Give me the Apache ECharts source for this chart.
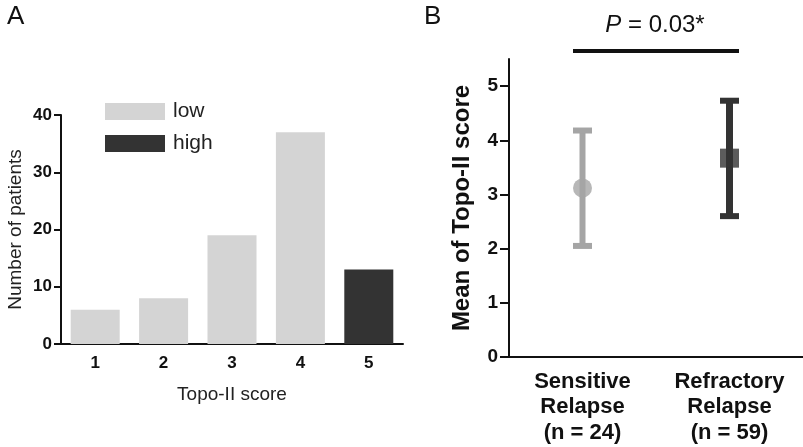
<!DOCTYPE html>
<html>
<head>
<meta charset="utf-8">
<script src="https://cdn.jsdelivr.net/npm/echarts@6/dist/echarts.min.js"></script>
<style>
  html, body { margin: 0; padding: 0; background: #fff; }
  #chart { width: 803px; height: 447px; }
</style>
</head>
<body>
<div id="chart"></div>
<script>
  // panel A - histogram of Topo-II scores
  var scores = ['1', '2', '3', '4', '5'];
  var lowCounts = [6, 8, 19, 37, '-'];
  var highCounts = ['-', '-', '-', '-', 13];

  // panel B - mean with error range
  var groups = ['Sensitive\nRelapse\n(n = 24)', 'Refractory\nRelapse\n(n = 59)'];
  var means = [3.12, 3.67];
  var errLow = [2.05, 2.6];
  var errHigh = [4.18, 4.73];
  var groupColors = ['#a5a5a5', '#333333'];
  var groupSymbols = ['circle', 'rect'];
  var yTicksB = [0, 1, 2, 3, 4, 5];

  var font = 'Liberation Sans, Arial, sans-serif';
  var myChart = echarts.init(document.getElementById('chart'));

  var errData = means.map(function (m, i) { return [i, errLow[i], errHigh[i]]; });
  var meanData = means.map(function (m, i) {
    return {
      value: [i, m],
      symbol: groupSymbols[i],
      symbolSize: 19,
      itemStyle: { color: groupColors[i] }
    };
  });

  var option = {
    backgroundColor: '#fff',
    animation: false,
    textStyle: { fontFamily: font },
    title: [
      { text: 'A', left: 7, top: 4, padding: 0, textStyle: { fontSize: 26, fontWeight: 'normal', color: '#111', fontFamily: font } },
      { text: 'B', left: 424, top: 4, padding: 0, textStyle: { fontSize: 26, fontWeight: 'normal', color: '#111', fontFamily: font } },
      {
        text: '{i|P} = 0.03*', left: 655, top: 13, padding: 0, textAlign: 'center',
        textStyle: {
          fontSize: 24, fontWeight: 'normal', color: '#111', fontFamily: font,
          rich: { i: { fontSize: 24, fontStyle: 'italic', color: '#111', fontFamily: font } }
        }
      }
    ],
    graphic: [
      { type: 'line', shape: { x1: 573, y1: 51, x2: 739, y2: 51 }, style: { stroke: '#111', lineWidth: 4 } }
    ],
    legend: {
      data: ['low', 'high'],
      orient: 'vertical',
      left: 100, top: 96,
      itemWidth: 60, itemHeight: 17, itemGap: 11,
      icon: 'rect',
      selectedMode: false,
      textStyle: { fontSize: 21, color: '#222', fontFamily: font, padding: [0, 0, 0, 3] }
    },
    grid: [
      { left: 61, top: 115, width: 342, height: 229 },
      { left: 509, top: 59, width: 294, height: 298 }
    ],
    xAxis: [
      {
        gridIndex: 0, type: 'category', data: scores,
        axisLine: { lineStyle: { color: '#111', width: 2 } },
        axisTick: { alignWithLabel: true, length: 6, lineStyle: { color: '#111', width: 2 } },
        axisLabel: { fontSize: 17, fontWeight: 'bold', color: '#111', margin: 11 },
        name: 'Topo-II score', nameLocation: 'middle', nameGap: 41,
        nameTextStyle: { fontSize: 19, color: '#222', fontFamily: font }
      },
      {
        gridIndex: 1, type: 'category', data: groups,
        axisLine: { lineStyle: { color: '#111', width: 2 } },
        axisTick: { alignWithLabel: true, length: 8, lineStyle: { color: '#111', width: 2 } },
        axisLabel: { fontSize: 22, fontWeight: 'bold', color: '#111', lineHeight: 25.5, margin: 12 }
      }
    ],
    yAxis: [
      {
        gridIndex: 0, type: 'value', min: 0, max: 40, interval: 10,
        splitLine: { show: false },
        axisLine: { show: true, lineStyle: { color: '#111', width: 2 } },
        axisTick: { show: true, length: 7, lineStyle: { color: '#111', width: 2 } },
        axisLabel: { fontSize: 17, fontWeight: 'bold', color: '#111', margin: 9 },
        name: 'Number of patients', nameLocation: 'middle', nameGap: 36,
        nameTextStyle: { fontSize: 19, color: '#222', fontFamily: font }
      },
      {
        gridIndex: 1, type: 'value', min: 0, max: 5.5, interval: 1,
        splitLine: { show: false },
        axisLine: { show: true, lineStyle: { color: '#111', width: 2 } },
        axisTick: { show: true, length: 9, customValues: yTicksB, lineStyle: { color: '#111', width: 2 } },
        axisLabel: { fontSize: 19, fontWeight: 'bold', color: '#111', margin: 11, customValues: yTicksB },
        name: 'Mean of Topo-II score', nameLocation: 'middle', nameGap: 35,
        nameTextStyle: { fontSize: 24, fontWeight: 'bold', color: '#111', fontFamily: font }
      }
    ],
    series: [
      {
        name: 'low', type: 'bar', xAxisIndex: 0, yAxisIndex: 0, stack: 'a',
        barWidth: 49, data: lowCounts,
        itemStyle: { color: '#d4d4d4' }
      },
      {
        name: 'high', type: 'bar', xAxisIndex: 0, yAxisIndex: 0, stack: 'a',
        barWidth: 49, data: highCounts,
        itemStyle: { color: '#333333' }
      },
      {
        type: 'custom', xAxisIndex: 1, yAxisIndex: 1, data: errData,
        renderItem: function (params, api) {
          var i = api.value(0);
          var lo = api.coord([i, api.value(1)]);
          var hi = api.coord([i, api.value(2)]);
          var c = groupColors[i];
          var hw = 9.5;
          var st = { stroke: c, lineWidth: i === 0 ? 6 : 7 };
          var cap = { stroke: c, lineWidth: 6 };
          return {
            type: 'group',
            children: [
              { type: 'line', shape: { x1: lo[0], y1: lo[1], x2: hi[0], y2: hi[1] }, style: st },
              { type: 'line', shape: { x1: lo[0] - hw, y1: lo[1], x2: lo[0] + hw, y2: lo[1] }, style: cap },
              { type: 'line', shape: { x1: hi[0] - hw, y1: hi[1], x2: hi[0] + hw, y2: hi[1] }, style: cap }
            ]
          };
        }
      },
      {
        type: 'scatter', xAxisIndex: 1, yAxisIndex: 1, data: meanData, z: 5
      }
    ]
  };
  myChart.setOption(option);
</script>
</body>
</html>
